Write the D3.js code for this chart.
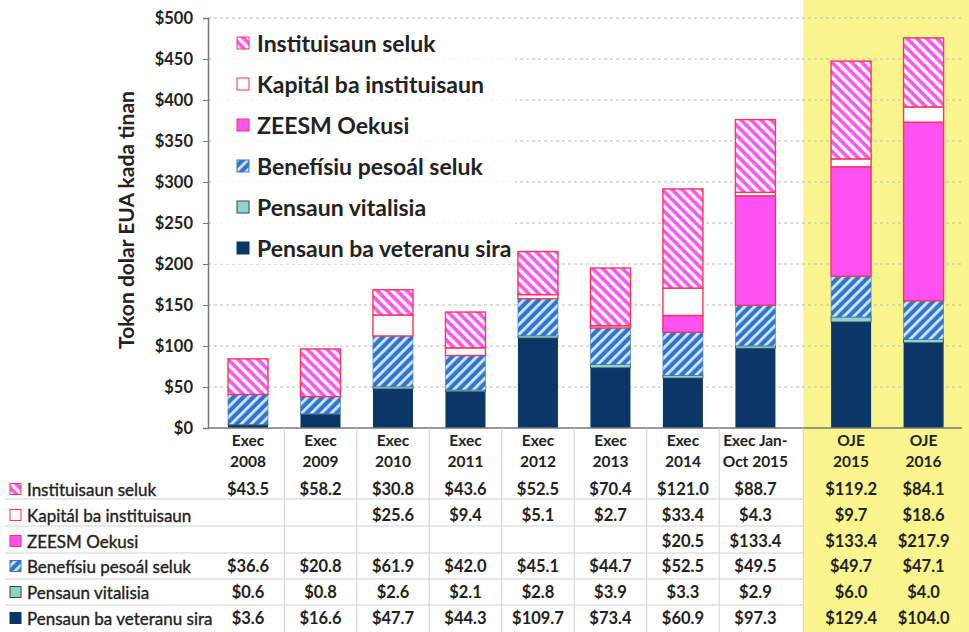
<!DOCTYPE html>
<html>
<head>
<meta charset="utf-8">
<script src="https://cdn.jsdelivr.net/npm/d3@7"></script>
<style>
html,body{margin:0;padding:0;background:#fff;}
svg{display:block;font-family:Lato,"Open Sans",sans-serif;}
</style>
</head>
<body>
<svg id="chart" width="969" height="632"></svg>
<script>
// ---- data ----
const categories = ["Exec 2008","Exec 2009","Exec 2010","Exec 2011","Exec 2012","Exec 2013","Exec 2014","Exec Jan-Oct 2015","OJE 2015","OJE 2016"];
const categoryLines = [["Exec","2008"],["Exec","2009"],["Exec","2010"],["Exec","2011"],["Exec","2012"],["Exec","2013"],["Exec","2014"],["Exec Jan-","Oct 2015"],["OJE","2015"],["OJE","2016"]];
const highlighted = [false,false,false,false,false,false,false,false,true,true];
const veteranu   = [3.6,16.6,47.7,44.3,109.7,73.4,60.9,97.3,129.4,104.0];
const vitalisia  = [0.6,0.8,2.6,2.1,2.8,3.9,3.3,2.9,6.0,4.0];
const benefisiu  = [36.6,20.8,61.9,42.0,45.1,44.7,52.5,49.5,49.7,47.1];
const zeesm      = [null,null,null,null,null,null,20.5,133.4,133.4,217.9];
const kapital    = [null,null,25.6,9.4,5.1,2.7,33.4,4.3,9.7,18.6];
const instituisaun = [43.5,58.2,30.8,43.6,52.5,70.4,121.0,88.7,119.2,84.1];
const seriesNames = ["Pensaun ba veteranu sira","Pensaun vitalisia","Benefísiu pesoál seluk","ZEESM Oekusi","Kapitál ba instituisaun","Instituisaun seluk"];
const yTicks = [0,50,100,150,200,250,300,350,400,450,500];
const yTitle = "Tokon dolar EUA kada tinan";

const seriesValues = [veteranu, vitalisia, benefisiu, zeesm, kapital, instituisaun];
const keys = ["vet","vit","ben","zee","kap","ins"];

// ---- styles ----
const styles = {
  vet:{fill:"#0a3768", stroke:"none", sw:0},
  vit:{fill:"#93d2c6", stroke:"#2d4a55", sw:0.8},
  ben:{fill:"url(#patBen)", stroke:"#3a78c8", sw:0.6},
  zee:{fill:"#ff52f2", stroke:"#ff3358", sw:1.4},
  kap:{fill:"#ffffff", stroke:"#ff3358", sw:1.4},
  ins:{fill:"url(#patIns)", stroke:"#ff3358", sw:1.4}
};

const svg = d3.select("#chart");
const W = 969, H = 632;

// defs: patterns
const defs = svg.append("defs");
const pb = defs.append("pattern").attr("id","patBen").attr("patternUnits","userSpaceOnUse")
  .attr("width",7).attr("height",7).attr("patternTransform","rotate(45)");
pb.append("rect").attr("width",7).attr("height",7).attr("fill","#2f76d2");
pb.append("rect").attr("x",0).attr("width",2.8).attr("height",7).attr("fill","#d4e6f8");
const pi = defs.append("pattern").attr("id","patIns").attr("patternUnits","userSpaceOnUse")
  .attr("width",7).attr("height",7).attr("patternTransform","rotate(-45)");
pi.append("rect").attr("width",7).attr("height",7).attr("fill","#ff55ee");
pi.append("rect").attr("x",0).attr("width",3.3).attr("height",7).attr("fill","#ffffff");

// ---- scales ----
const slot = categories.map((c,i)=> i + (highlighted[i] ? 0.32 : 0));
const x = d3.scaleLinear().domain([-0.552, 9.85]).range([208, 962]);
const y = d3.scaleLinear().domain([0, 500]).range([428, 18]);
const barW = x(0.552) - x(0);

// highlight band
const hiStart = x((slot[7] + slot[8]) / 2);
svg.append("rect").attr("x", hiStart).attr("y",0).attr("width", W - hiStart).attr("height", H).attr("fill","#faf58c");

// gridlines
svg.append("g").selectAll("line").data(yTicks.filter(t=>t>0)).join("line")
  .attr("x1", 208).attr("x2", 962).attr("y1", d=>y(d)).attr("y2", d=>y(d))
  .attr("stroke","#b9b9b9").attr("stroke-width",1).attr("stroke-dasharray","3,3");

// legend background
svg.append("rect").attr("x",212).attr("y",24).attr("width",303).attr("height",240).attr("fill","#fff").attr("opacity",0.82);

// y axis
const yAxis = d3.axisLeft(y).tickValues(yTicks).tickFormat(d=>"$"+d).tickSize(5).tickPadding(10);
const gy = svg.append("g").attr("transform","translate(208,0)").call(yAxis);
gy.select(".domain").attr("stroke","#777").attr("stroke-width",1.5);
gy.selectAll(".tick line").attr("stroke","#777");
gy.selectAll(".tick text").attr("font-size",16.5).attr("font-weight","bold").attr("fill","#222").attr("font-family","Lato, sans-serif");

// y title
svg.append("text").attr("transform","translate(134,220) rotate(-90)").attr("text-anchor","middle")
  .attr("font-size",21).attr("font-weight","bold").attr("fill","#222").text(yTitle);

// bars
const stackData = categories.map((c,i)=>{
  const o = {cat:c, i:i};
  keys.forEach((k,j)=> o[k] = seriesValues[j][i] || 0);
  return o;
});
const stacked = d3.stack().keys(keys)(stackData);
const gBars = svg.append("g");
stacked.forEach(layer=>{
  const st = styles[layer.key];
  gBars.append("g").selectAll("rect").data(layer.filter(d=>d[1]-d[0]>0)).join("rect")
    .attr("x", d=> x(slot[d.data.i]) - barW/2)
    .attr("width", barW)
    .attr("y", d=> y(d[1]))
    .attr("height", d=> y(d[0]) - y(d[1]))
    .attr("fill", st.fill)
    .attr("stroke", st.stroke)
    .attr("stroke-width", st.sw);
});

// x axis line
svg.append("line").attr("x1",208).attr("x2",962).attr("y1",y(0)).attr("y2",y(0)).attr("stroke","#777").attr("stroke-width",1.5);

// in-plot legend
const legendOrder = [5,4,3,2,1,0];
const lg = svg.append("g");
legendOrder.forEach((si,r)=>{
  const cy = 43 + r*41;
  const st = styles[keys[si]];
  lg.append("rect").attr("x",237).attr("y",cy-6).attr("width",12).attr("height",12)
    .attr("fill",st.fill).attr("stroke", st.stroke==="none" ? "#0a3768" : st.stroke).attr("stroke-width",1);
  lg.append("text").attr("x",257).attr("y",cy).attr("dominant-baseline","central")
    .attr("font-size",23).attr("font-weight","bold").attr("fill","#222").text(seriesNames[si]);
});

// ---- table ----
const rowY = [489,515,541,566,592,618];
const tbl = svg.append("g");
// vertical lines
const bounds = d3.range(0,7).map(i=> x((slot[i]+slot[i+1])/2));
tbl.selectAll("line.v").data(bounds).join("line").attr("class","v")
  .attr("x1",d=>d).attr("x2",d=>d).attr("y1",y(0)).attr("y2",H)
  .attr("stroke","#d2d2d2").attr("stroke-width",1);
tbl.append("line").attr("x1",hiStart).attr("x2",hiStart).attr("y1",y(0)).attr("y2",H).attr("stroke","#d2d2d2");
// horizontal lines
const hLines = [499,526,553,579,605];
tbl.selectAll("line.h").data(hLines).join("line").attr("class","h")
  .attr("x1",5).attr("x2",hiStart).attr("y1",d=>d).attr("y2",d=>d)
  .attr("stroke","#d2d2d2").attr("stroke-width",1);
// headers
categoryLines.forEach((ls,i)=>{
  ls.forEach((t,k)=>{
    tbl.append("text").attr("x", x(slot[i])).attr("y", 440 + k*21).attr("text-anchor","middle")
      .attr("dominant-baseline","central").attr("font-size",15.5).attr("font-weight","bold").attr("fill","#222").text(t);
  });
});
// rows
legendOrder.forEach((si,r)=>{
  const cy = rowY[r];
  const st = styles[keys[si]];
  tbl.append("rect").attr("x",10).attr("y",cy-5.5).attr("width",11).attr("height",11)
    .attr("fill",st.fill).attr("stroke", st.stroke==="none" ? "#0a3768" : st.stroke).attr("stroke-width",1);
  tbl.append("text").attr("x",27).attr("y",cy).attr("dominant-baseline","central")
    .attr("font-size",17).attr("fill","#222").attr("stroke","#222").attr("stroke-width",0.35).text(seriesNames[si]);
  seriesValues[si].forEach((v,i)=>{
    if (v === null) return;
    tbl.append("text").attr("x", x(slot[i])).attr("y", cy).attr("text-anchor","middle")
      .attr("dominant-baseline","central").attr("font-size",16.5).attr("font-weight","bold").attr("fill","#222")
      .text("$" + d3.format(".1f")(v));
  });
});
</script>
</body>
</html>
